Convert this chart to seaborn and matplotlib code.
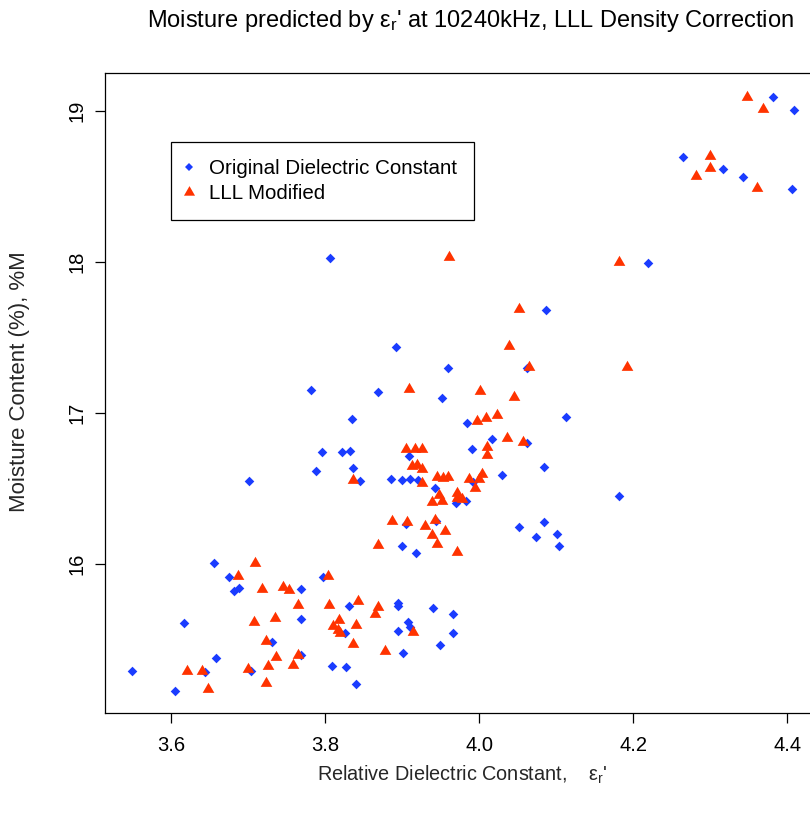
import matplotlib
matplotlib.use("Agg")
import matplotlib.pyplot as plt
import seaborn as sns
import pandas as pd
from matplotlib.path import Path
from matplotlib.lines import Line2D

# ---------------- data ----------------
series_names = ["Original Dielectric Constant", "LLL Modified"]

orig_x = [3.549, 3.605, 3.616, 3.644, 3.658, 3.656, 3.675, 3.681, 3.688, 3.703,
          3.731, 3.768, 3.769, 3.769, 3.797, 3.809, 3.827, 3.831, 3.840, 3.894,
          3.894, 3.940, 3.966, 3.908, 3.910, 3.895, 3.966, 3.826, 3.901, 3.949,
          3.900, 3.918, 3.905, 3.944, 4.052, 4.084, 4.074, 4.101, 4.103, 4.182,
          3.983, 3.970, 3.943, 3.992, 4.029, 4.084, 3.991, 4.016, 4.062, 3.984,
          4.113, 3.952, 3.960, 3.892, 4.062, 4.086, 4.219, 3.806, 3.782, 3.868,
          3.835, 3.796, 3.822, 3.832, 3.836, 3.788, 3.845, 3.701, 3.886, 3.900,
          3.910, 3.921, 3.909, 4.264, 4.316, 4.343, 4.381, 4.409, 4.406]
orig_y = [15.291, 15.159, 15.609, 15.285, 15.377, 16.007, 15.914, 15.821, 15.841, 15.291,
          15.483, 15.834, 15.636, 15.397, 15.914, 15.325, 15.318, 15.722, 15.205, 15.742,
          15.722, 15.709, 15.669, 15.616, 15.583, 15.556, 15.543, 15.543, 15.411, 15.464,
          16.119, 16.073, 16.265, 16.285, 16.245, 16.278, 16.179, 16.199, 16.119, 16.450,
          16.417, 16.404, 16.503, 16.543, 16.589, 16.642, 16.762, 16.828, 16.801, 16.934,
          16.974, 17.099, 17.298, 17.437, 17.298, 17.682, 17.993, 18.026, 17.152, 17.139,
          16.960, 16.742, 16.742, 16.748, 16.636, 16.616, 16.550, 16.550, 16.563, 16.556,
          16.563, 16.556, 16.715, 18.695, 18.616, 18.563, 19.093, 19.007, 18.483]

lll_x = [3.621, 3.640, 3.648, 3.700, 3.725, 3.723, 3.736, 3.723, 3.708, 3.735,
         3.709, 3.687, 3.718, 3.745, 3.753, 3.765, 3.764, 3.758, 3.804, 3.805,
         3.842, 3.868, 3.864, 3.818, 3.810, 3.816, 3.819, 3.840, 3.836, 3.878,
         3.914, 3.868, 3.887, 3.906, 3.930, 3.942, 3.938, 3.955, 3.945, 3.971,
         3.938, 3.952, 3.948, 3.971, 3.971, 3.977, 3.995, 3.987, 3.999, 4.003,
         3.945, 3.953, 3.960, 3.926, 3.913, 3.919, 3.925, 3.905, 3.917, 3.925,
         4.010, 4.010, 4.036, 4.057, 3.997, 4.009, 4.023, 4.001, 4.045, 3.909,
         3.836, 4.039, 4.065, 4.052, 4.192, 4.182, 3.961, 4.348, 4.368, 4.299,
         4.300, 4.281, 4.361]
lll_y = [15.291, 15.291, 15.172, 15.305, 15.325, 15.212, 15.384, 15.490, 15.616, 15.642,
         16.007, 15.921, 15.834, 15.848, 15.828, 15.728, 15.397, 15.331, 15.921, 15.728,
         15.755, 15.715, 15.669, 15.629, 15.589, 15.563, 15.543, 15.596, 15.470, 15.424,
         15.550, 16.126, 16.285, 16.278, 16.252, 16.291, 16.192, 16.219, 16.132, 16.079,
         16.411, 16.417, 16.457, 16.470, 16.437, 16.430, 16.503, 16.563, 16.563, 16.596,
         16.576, 16.570, 16.576, 16.536, 16.649, 16.656, 16.629, 16.762, 16.762, 16.762,
         16.775, 16.722, 16.834, 16.808, 16.947, 16.967, 16.987, 17.146, 17.106, 17.159,
         16.556, 17.444, 17.305, 17.689, 17.305, 18.000, 18.033, 19.093, 19.013, 18.702,
         18.623, 18.570, 18.490]

x_ticks = [3.6, 3.8, 4.0, 4.2, 4.4]
x_tick_labels = ["3.6", "3.8", "4.0", "4.2", "4.4"]
y_ticks = [16, 17, 18, 19]
y_tick_labels = ["16", "17", "18", "19"]

title = "Moisture predicted by $\\mathregular{ε_r}$' at 10240kHz, LLL Density Correction"
xlabel = "Relative Dielectric Constant,    $\\mathregular{ε_r}$'"
ylabel = "Moisture Content (%), %M"

BLUE = "#1a3cff"
RED = "#ff3300"

# ---------------- style ----------------
sns.set_style("white")
plt.rcParams["font.family"] = ["Liberation Sans", "DejaVu Sans"]
plt.rcParams["mathtext.fontset"] = "custom"
plt.rcParams["mathtext.rm"] = "Liberation Sans"
plt.rcParams["mathtext.it"] = "Liberation Sans:italic"
plt.rcParams["mathtext.sf"] = "Liberation Sans"
plt.rcParams["text.color"] = "black"

W, H = 810, 815
fig = plt.figure(figsize=(W / 100, H / 100), dpi=100)
ax = fig.add_axes([105 / W, 1 - 713 / H, 707 / W, 640 / H])

df_orig = pd.DataFrame({"x": orig_x, "y": orig_y})
df_lll = pd.DataFrame({"x": lll_x, "y": lll_y})

tri = Path([(0, 0.5774), (-0.5, -0.2887), (0.5, -0.2887), (0, 0.5774)],
           [Path.MOVETO, Path.LINETO, Path.LINETO, Path.CLOSEPOLY])

sns.scatterplot(data=df_orig, x="x", y="y", ax=ax, marker="D", s=24,
                color=BLUE, linewidth=0, legend=False, zorder=3)
sns.scatterplot(data=df_lll, x="x", y="y", ax=ax, marker=tri, s=94,
                color=RED, linewidth=0, legend=False, zorder=4)

ax.set_xlim(3.514, 4.432)
ax.set_ylim(15.013, 19.252)
ax.set_xticks(x_ticks)
ax.set_xticklabels(x_tick_labels)
ax.set_yticks(y_ticks)
ax.set_yticklabels(y_tick_labels, rotation=90, va="center")

for s in ax.spines.values():
    s.set_color("black")
    s.set_linewidth(0.9)
ax.tick_params(axis="both", which="major", direction="out", length=7.5, width=0.9,
               color="black", labelsize=14.5, labelcolor="black")
ax.tick_params(axis="x", pad=9)
ax.tick_params(axis="y", pad=6)
ax.tick_params(bottom=True, left=True)

xl = ax.set_xlabel(xlabel, fontsize=14.3)
xl.set_va("center")
ax.xaxis.set_label_coords((462 - 105) / 707, (713 - 775) / 640)
yl = ax.set_ylabel(ylabel, fontsize=16)
yl.set_rotation_mode("default")
yl.set_va("center")
yl.set_ha("center")
ax.yaxis.set_label_coords((20 - 105) / 707, (713 - 382) / 640)

fig.text(470 / W, 1 - 21 / H, title, ha="center", va="center", fontsize=17)

handles = [
    Line2D([], [], linestyle="none", marker="D", markersize=4.4, color=BLUE,
           markeredgewidth=0),
    Line2D([], [], linestyle="none", marker=tri, markersize=9.2, color=RED,
           markeredgewidth=0),
]
leg = ax.legend(handles, series_names, loc="upper left",
                bbox_to_anchor=(171 / W, 1 - 142 / H), bbox_transform=fig.transFigure,
                frameon=True, fancybox=False, shadow=False, framealpha=1,
                edgecolor="black", fontsize=14.8, borderpad=0.83, handlelength=0.1,
                handletextpad=0.93, labelspacing=0.30, borderaxespad=0)
leg.get_frame().set_linewidth(0.9)

fig.savefig("out.png", dpi=100)
